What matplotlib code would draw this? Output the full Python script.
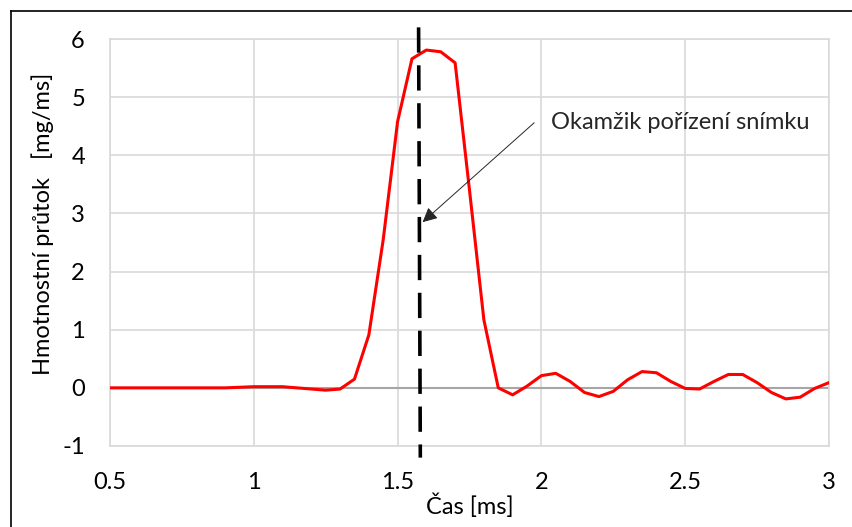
import matplotlib
matplotlib.use("Agg")
import matplotlib.pyplot as plt
from matplotlib.lines import Line2D

plt.rcParams['font.family'] = ['Lato', 'DejaVu Sans']
plt.rcParams['axes.unicode_minus'] = False

time_ms = [0.50, 0.55, 0.60, 0.65, 0.70, 0.75, 0.80, 0.85, 0.90, 0.95,
           1.00, 1.05, 1.10, 1.15, 1.20, 1.25, 1.30, 1.35, 1.40, 1.45,
           1.50, 1.55, 1.60, 1.65, 1.70, 1.75, 1.80, 1.85, 1.90, 1.95,
           2.00, 2.05, 2.10, 2.15, 2.20, 2.25, 2.30, 2.35, 2.40, 2.45,
           2.50, 2.55, 2.60, 2.65, 2.70, 2.75, 2.80, 2.85, 2.90, 2.95, 3.00]
flow = [0.00, 0.00, 0.00, 0.00, 0.00, 0.00, 0.00, 0.00, 0.00, 0.01,
        0.02, 0.02, 0.02, 0.00, -0.02, -0.04, -0.02, 0.15, 0.91, 2.55,
        4.58, 5.66, 5.81, 5.78, 5.59, 3.40, 1.17, 0.00, -0.12, 0.03,
        0.21, 0.25, 0.11, -0.08, -0.15, -0.06, 0.14, 0.28, 0.26, 0.11,
        -0.01, -0.02, 0.11, 0.23, 0.23, 0.09, -0.08, -0.19, -0.16, -0.01, 0.09]

snapshot_t = 1.573
x_ticks = [0.5, 1, 1.5, 2, 2.5, 3]
x_labels = ["0.5", "1", "1.5", "2", "2.5", "3"]
y_ticks = [-1, 0, 1, 2, 3, 4, 5, 6]
annot_text = "Okamžik pořízení snímku"

fig = plt.figure(figsize=(8.53, 5.27), dpi=100)
ax = fig.add_axes([110/853, 1-446/527, (829-110)/853, (446-39)/527])

ax.set_xlim(0.5, 3)
ax.set_ylim(-1, 6)
ax.set_xticks(x_ticks)
ax.set_xticklabels(x_labels)
ax.set_yticks(y_ticks)
ax.grid(True, color='#d9d9d9', linewidth=1.2)
ax.set_axisbelow(True)
for s in ax.spines.values():
    s.set_color('#d9d9d9')
    s.set_linewidth(1.2)
ax.tick_params(length=0, labelsize=17, colors='black')
ax.tick_params(axis='x', pad=19)
ax.tick_params(axis='y', pad=18)
ax.axhline(0, color='#a6a6a6', linewidth=1.5, zorder=1)

ax.plot(time_ms, flow, color='#ff0000', linewidth=2.2, zorder=3)

ax.plot([snapshot_t, snapshot_t + 0.006], [6.2, -1.2], color='black', linewidth=2.6,
        linestyle=(0, (7, 3.5)), clip_on=False, zorder=4)

ax.annotate("", xy=(1.587, 2.85), xytext=(1.975, 4.56),
            arrowprops=dict(arrowstyle='-|>', color='#262626', lw=0.7,
                            mutation_scale=22, shrinkA=0, shrinkB=0), zorder=5)
ax.text(2.033, 4.56, annot_text, fontsize=17, va='center', ha='left', color='#262626')

ax.set_xlabel("Čas [ms]", fontsize=17, labelpad=0)
ax.set_ylabel("Hmotnostní průtok   [mg/ms]", fontsize=17)
ax.yaxis.set_label_coords((54 - 110) / 719, (446 - 224) / 407)

fig.add_artist(Line2D([11/853, 11/853], [0, 1-11/527], color='black', linewidth=1.2,
                      transform=fig.transFigure))
fig.add_artist(Line2D([11/853, 1], [1-11/527, 1-11/527], color='black', linewidth=1.2,
                      transform=fig.transFigure))

fig.savefig("out.png", dpi=100)
